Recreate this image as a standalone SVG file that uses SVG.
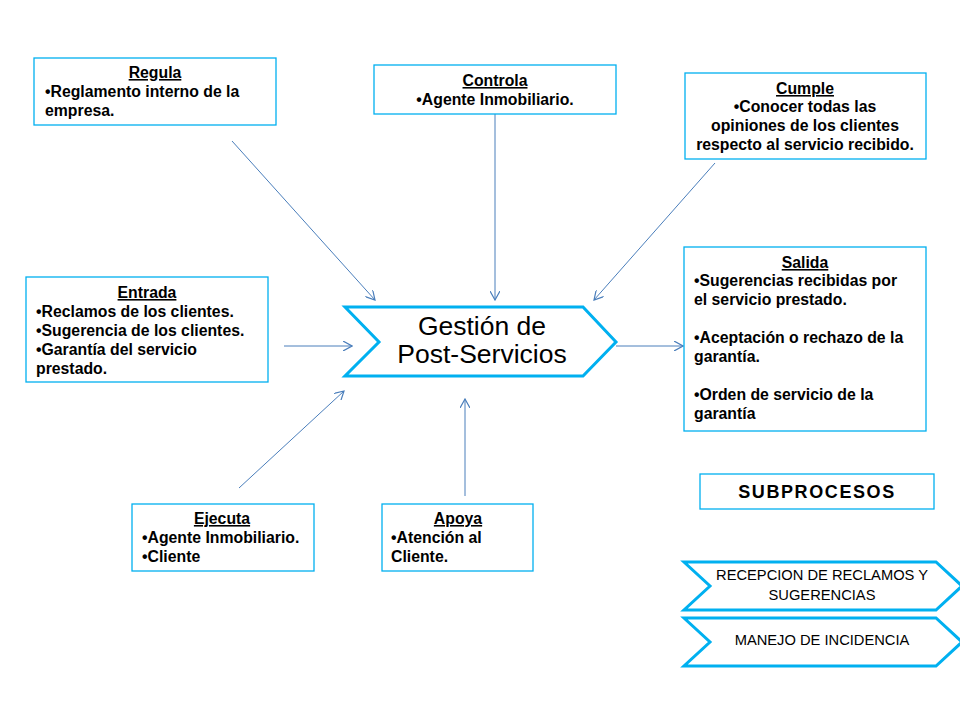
<svg xmlns="http://www.w3.org/2000/svg" width="960" height="720" viewBox="0 0 960 720">
<defs>
<marker id="ah" viewBox="0 0 10 10" refX="9" refY="5" markerWidth="10" markerHeight="10" markerUnits="userSpaceOnUse" orient="auto">
<path d="M0,0 L9,5 L0,10" fill="none" stroke="#4a7ebb" stroke-width="1.2"/>
</marker>
<style>
.box{fill:#fff;stroke:#00b0f0;stroke-width:1.3}
.t{font-family:"Liberation Sans",Arial,sans-serif;font-size:15.8px;font-weight:bold;fill:#000}
.h{text-decoration:underline}
.c{text-anchor:middle}
.con line{stroke:#4a7ebb;stroke-width:1;marker-end:url(#ah)}
.chev{fill:#fff;stroke:#00b0f0;stroke-width:3}
.sub{font-family:"Liberation Sans",Arial,sans-serif;font-size:14.7px;fill:#000;text-anchor:middle}
.main{font-family:"Liberation Sans",Arial,sans-serif;font-size:26.5px;fill:#000;text-anchor:middle}
.big{font-size:18px;letter-spacing:1.6px}
</style>
</defs>
<rect width="960" height="720" fill="#fff"/>
<g class="con">
<line x1="232" y1="141" x2="375" y2="300"/>
<line x1="495" y1="114" x2="495" y2="300"/>
<line x1="715" y1="163" x2="594" y2="300"/>
<line x1="284" y1="346" x2="352" y2="346"/>
<line x1="616" y1="346" x2="683" y2="346"/>
<line x1="239" y1="488" x2="344" y2="391"/>
<line x1="465" y1="496" x2="465" y2="399"/>
</g>
<g id="gestion">
<polygon class="chev" points="345,307 583,307 616,342 583,376 345,376 379,342"/>
<text class="main" x="482" y="335">Gestión de</text>
<text class="main" x="482" y="363">Post-Servicios</text>
</g>
<g id="regula">
<rect class="box" x="34" y="58" width="242" height="67"/>
<text class="t c h" x="155" y="78">Regula</text>
<text class="t" x="45" y="97">•Reglamento interno de la</text>
<text class="t" x="45" y="116">empresa.</text>
</g>
<g id="controla">
<rect class="box" x="374" y="65" width="242" height="49"/>
<text class="t c h" x="495" y="86">Controla</text>
<text class="t c" x="495" y="105">•Agente Inmobiliario.</text>
</g>
<g id="cumple">
<rect class="box" x="685" y="73" width="241" height="86"/>
<text class="t c h" x="805" y="94">Cumple</text>
<text class="t c" x="805" y="112">•Conocer todas las</text>
<text class="t c" x="805" y="131">opiniones de los clientes</text>
<text class="t c" x="805" y="150">respecto al servicio recibido.</text>
</g>
<g id="entrada">
<rect class="box" x="26" y="277" width="242" height="105"/>
<text class="t c h" x="147" y="298">Entrada</text>
<text class="t" x="36" y="317">•Reclamos de los clientes.</text>
<text class="t" x="36" y="336">•Sugerencia de los clientes.</text>
<text class="t" x="36" y="355">•Garantía del servicio</text>
<text class="t" x="36" y="374">prestado.</text>
</g>
<g id="salida">
<rect class="box" x="684" y="247" width="242" height="184"/>
<text class="t c h" x="805" y="268">Salida</text>
<text class="t" x="694" y="286">•Sugerencias recibidas por</text>
<text class="t" x="694" y="305">el servicio prestado.</text>
<text class="t" x="694" y="343">•Aceptación o rechazo de la</text>
<text class="t" x="694" y="362">garantía.</text>
<text class="t" x="694" y="400">•Orden de servicio de la</text>
<text class="t" x="694" y="419">garantía</text>
</g>
<g id="ejecuta">
<rect class="box" x="132" y="504" width="182" height="67"/>
<text class="t c h" x="222" y="524">Ejecuta</text>
<text class="t" x="142" y="543">•Agente Inmobiliario.</text>
<text class="t" x="142" y="562">•Cliente</text>
</g>
<g id="apoya">
<rect class="box" x="382" y="504" width="151" height="67"/>
<text class="t c h" x="458" y="524">Apoya</text>
<text class="t" x="391" y="543">•Atención al</text>
<text class="t" x="391" y="562">Cliente.</text>
</g>
<g id="subprocesos">
<rect class="box" x="700" y="474" width="234" height="35"/>
<text class="t c big" x="817" y="498">SUBPROCESOS</text>
</g>
<g id="recepcion">
<polygon class="chev" points="684,562 936,562 962,586 936,610 684,610 710,586"/>
<text class="sub" x="822" y="580">RECEPCION DE RECLAMOS Y</text>
<text class="sub" x="822" y="600">SUGERENCIAS</text>
</g>
<g id="manejo">
<polygon class="chev" points="684,618 936,618 962,642 936,666 684,666 710,642"/>
<text class="sub" x="822" y="645">MANEJO DE INCIDENCIA</text>
</g>
</svg>
